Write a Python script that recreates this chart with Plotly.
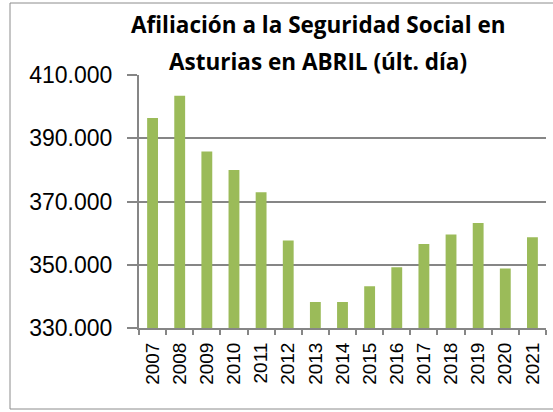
import plotly.graph_objects as go

years = ["2007", "2008", "2009", "2010", "2011", "2012", "2013", "2014",
         "2015", "2016", "2017", "2018", "2019", "2020", "2021"]
afiliados = [396400, 403400, 385800, 380000, 372900, 357700, 338200, 338200,
             343200, 349200, 356600, 359600, 363200, 348800, 358700]
y_ticks = [330000, 350000, 370000, 390000, 410000]
title_lines = ["Afiliación a la Seguridad Social en", "Asturias en ABRIL (últ. día)"]

W, H = 553, 412
L, R, T, B = 139, 7, 75, 84
pw, ph = W - L - R, H - T - B

def px_x(x):
    return (x - L) / pw

def px_y(y):
    return (H - B - y) / ph

fig = go.Figure(go.Bar(
    x=years, y=afiliados,
    marker=dict(color="#9BBB59", line=dict(width=0)),
))

title_y = [24, 61]
fig.update_layout(
    width=W, height=H,
    margin=dict(l=L, r=R, t=T, b=B),
    paper_bgcolor="white", plot_bgcolor="white",
    separators=",.",
    bargap=0.6,
    showlegend=False,
    font=dict(family="Liberation Sans, Arial, sans-serif", color="black"),
    annotations=[dict(
        text="<b>" + line + "</b>",
        xref="paper", yref="paper", x=px_x(318), y=px_y(yy),
        xanchor="center", yanchor="middle", showarrow=False,
        font=dict(family="Open Sans, sans-serif", size=22.5, color="black"),
    ) for line, yy in zip(title_lines, title_y)],
    shapes=[dict(
        type="rect", xref="paper", yref="paper",
        x0=px_x(10), x1=px_x(560), y0=px_y(409), y1=px_y(3),
        line=dict(color="#8c8c8c", width=1), layer="below",
    )],
)

fig.update_xaxes(
    type="category",
    tickangle=-90,
    tickfont=dict(size=19),
    showline=True, linecolor="#868686", linewidth=2,
    ticks="outside", tickson="boundaries", ticklen=5, tickcolor="#868686", tickwidth=2,
    ticklabelstandoff=5,
    showgrid=False,
)
fig.update_yaxes(
    range=[330000, 410000],
    tickvals=y_ticks,
    tickformat=",d",
    tickfont=dict(size=23),
    showline=True, linecolor="#868686", linewidth=2,
    ticks="outside", ticklen=10, tickcolor="#868686", tickwidth=2,
    ticklabelstandoff=10,
    showgrid=True, gridcolor="#868686", gridwidth=2,
    zeroline=False,
)

fig.write_html("out.html", config={"displayModeBar": False},
               post_script="document.body.style.margin='0';")
